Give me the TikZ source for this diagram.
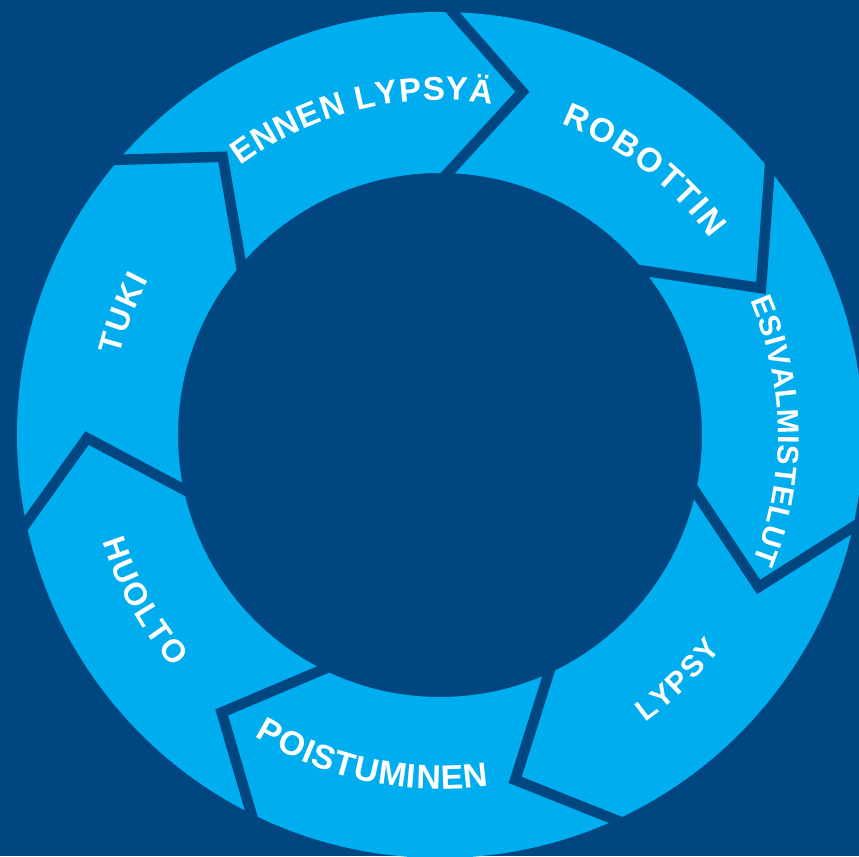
\documentclass[tikz,border=0pt]{standalone}
\usepackage{fontspec}
\setmainfont{Liberation Sans}
\usepackage{tikz}
\usetikzlibrary{calc,decorations.text}

\definecolor{ringblue}{HTML}{00AEEF}
\definecolor{deepblue}{HTML}{004680}

\begin{document}
\begin{tikzpicture}[x=0.02cm, y=0.02cm,
    sepline/.style={draw=deepblue, line width=0.21cm, line join=miter, miter limit=10},
    cyclelabel/.style={decorate, decoration={text along path, text color=white, text align={fit to path}}}]
                \useasboundingbox (-440,-421) rectangle (419,435);
                \clip (-440,-421) rectangle (419,435);
                \fill[deepblue] (-440,-421) rectangle (419,435);
                \coordinate (c) at (0,0);
                \fill[ringblue, even odd rule] (c) circle[radius=423] (c) circle[radius=262];
                % chevrons between the steps
                \foreach \base/\tip in {88.3/76.5, 38.8/24.6, -12.6/-25.5, -65.5/-77.7, -116.5/-128.2, -168/-179.5, 139.4/128} {
                    \draw[sepline] ($(\tip:353)!1.12!(\base:423)$) -- (\tip:353) -- ($(\tip:353)!1.12!(\base:262)$);
                }
                \bfseries
                % word / from / to / radius / size in pt
                \foreach \word/\from/\to/\rad/\size in {ENNEN LYPSYÄ/126.5/81/335/18.8, ROBOTTIN/68.7/36/334/19.1, ESIVALMISTELUT/23.5/-22/338/17.1, LYPSY/-54.5/-37.3/353/17.1, POISTUMINEN/-121.5/-82/354/19.3, HUOLTO/-162.5/-139/354/18.2, TUKI/166/152/330/18.2} {
                    \fontsize{\size}{22}\selectfont
                    \path[cyclelabel, decoration={text/.expanded=\word}] (\from:\rad) arc[start angle=\from, end angle=\to, radius=\rad];
                }
\end{tikzpicture}
\end{document}
